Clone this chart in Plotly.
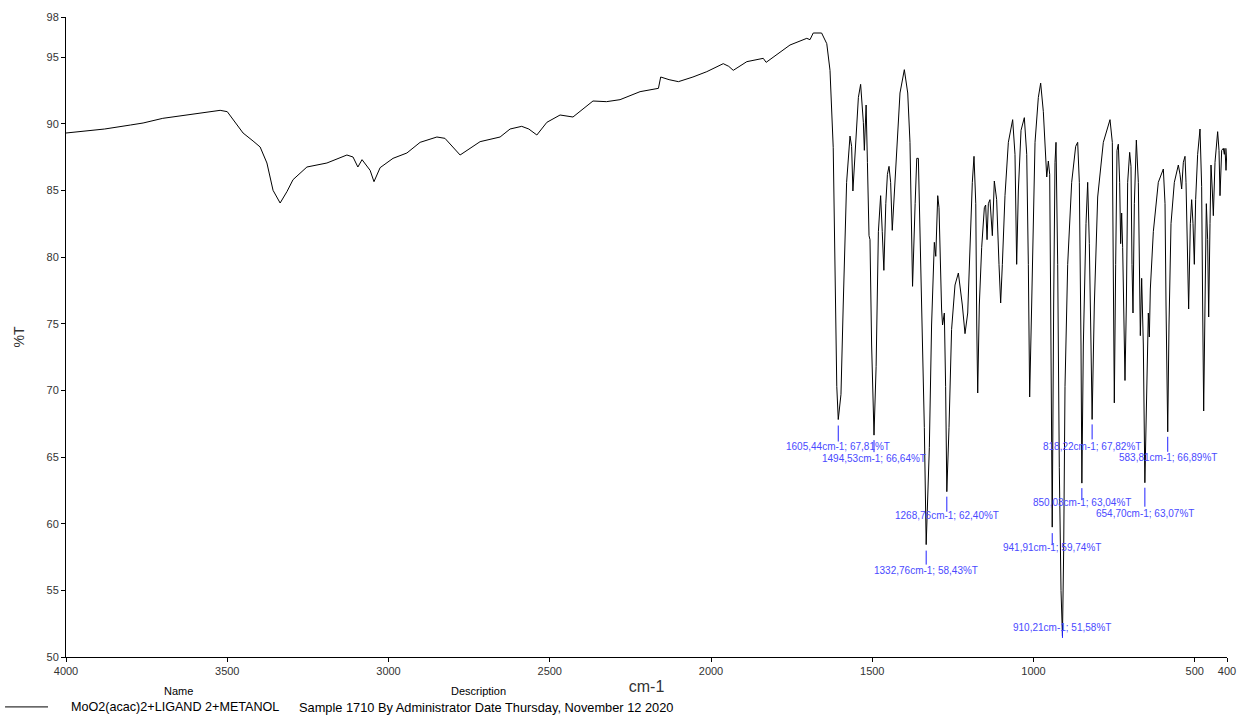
import plotly.graph_objects as go

# ---- data ----
wavenumber = [
    4000, 3880, 3800, 3761, 3700, 3640, 3580, 3522, 3500, 3482, 3451, 3420, 3398, 3377, 3358,
    3336, 3315, 3296, 3253, 3191, 3129, 3110, 3095, 3082, 3057, 3045, 3026, 2986, 2943, 2902,
    2850, 2825, 2800, 2778, 2716, 2654, 2623, 2587, 2565, 2540, 2509, 2468, 2428, 2366, 2324,
    2282, 2220, 2163, 2156, 2130, 2101, 2056, 2013, 1962, 1945, 1931, 1889, 1838, 1829, 1786,
    1755, 1703, 1693, 1683, 1657, 1641, 1631, 1621, 1615, 1610, 1605.44, 1597, 1590, 1579.5,
    1569, 1564, 1560, 1553.5, 1543, 1536, 1527.6, 1524.5, 1519, 1515, 1510, 1507, 1502,
    1494.53, 1488, 1481, 1474, 1469, 1464, 1458, 1453, 1448, 1443, 1438, 1432.5, 1424, 1414,
    1400.5, 1390, 1383, 1378, 1375, 1367, 1362, 1357, 1352, 1347, 1338.5, 1332.76, 1323, 1316,
    1310.6, 1307.5, 1303, 1297, 1293, 1290, 1285, 1282, 1276.5, 1272.5, 1268.76, 1262, 1254,
    1243.4, 1233, 1220.7, 1212.4, 1204, 1197, 1189.7, 1184.5, 1179, 1176, 1173, 1168, 1160.7,
    1152.4, 1148.3, 1144, 1140, 1135, 1132, 1127.6, 1121.5, 1114.2, 1107, 1101.8, 1096.6,
    1088.4, 1078, 1064.6, 1057.4, 1052.2, 1047, 1038.7, 1028.4, 1021, 1016, 1011.9, 1005.7,
    995.3, 985, 977.8, 969.5, 964.4, 959, 954, 949.8, 946.7, 941.91, 937.5, 933.3, 930.2, 925,
    920, 914.7, 910.21, 906.4, 902.3, 894, 881.6, 869.2, 863, 857.9, 852.7, 850.03, 845.5,
    837.2, 832, 826.9, 821.7, 818.22, 811.4, 801, 783.5, 762.8, 755.6, 752.5, 749.4, 745.2,
    741.1, 737, 732.8, 729.7, 726.6, 723.5, 719.4, 716.3, 712.1, 708, 701.8, 697.7, 694.6,
    691.5, 687.3, 681.1, 674.9, 671.8, 668.7, 664.6, 659.4, 654.70, 649.1, 643.9, 640.8, 637.7,
    628.4, 613, 597.4, 592.2, 589.1, 583.81, 579.8, 573.6, 563.3, 550.9, 545.7, 540.6, 535.4,
    530.2, 527.1, 524, 518.9, 513.7, 509.6, 505.4, 501.3, 497.2, 491, 483.7, 478.6, 475.5,
    472.3, 468.2, 464.1, 460, 456.8, 452.7, 449.6, 445.5, 442.4, 437.2, 429, 424.8, 421.7,
    416.5, 411.4, 408.3, 406.2, 403.1, 400,
]
transmittance = [
    89.3, 89.6, 89.9, 90.05, 90.4, 90.6, 90.85, 91.0, 90.9, 90.3, 89.3, 88.7, 88.25, 87.05, 85.0,
    84.05, 84.9, 85.8, 86.75, 87.05, 87.65, 87.5, 86.75, 87.3, 86.5, 85.65, 86.7, 87.4, 87.8, 88.6,
    89.0, 88.9, 88.2, 87.65, 88.65, 89.0, 89.6, 89.8, 89.6, 89.15, 90.1, 90.65, 90.5, 91.7, 91.65,
    91.8, 92.4, 92.65, 93.5, 93.3, 93.15, 93.5, 93.9, 94.5, 94.3, 94.0, 94.65, 94.9, 94.6, 95.35,
    95.9, 96.4, 96.3, 96.8, 96.8, 96.0, 94.0, 88.2, 79.4, 70.3, 67.81, 69.7, 76.4, 85.6,
    89.07, 88.3, 84.95, 87.4, 91.97, 92.95, 90.1, 88.0, 91.4, 87.1, 81.6, 81.3, 73.4,
    66.64, 71.8, 81.9, 84.6, 81.9, 79.0, 84.0, 86.2, 86.8, 85.6, 82.0, 84.6, 88.6, 92.3,
    94.05, 92.3, 88.6, 81.0, 77.8, 84.0, 87.4, 87.4, 82.5, 76.4, 67.2, 58.43, 65.7, 74.9,
    79.45, 81.1, 80.05, 84.6, 83.7, 80.4, 76.1, 74.9, 75.8, 70.3, 62.40, 67.2, 74.56,
    77.9, 78.8, 76.4, 74.25, 75.8, 81.0, 85.6, 87.55, 84.0, 74.9, 69.8, 76.4, 80.7,
    83.7, 83.9, 81.3, 84.0, 84.3, 83.4, 81.6, 85.7, 84.3, 79.45, 76.55, 79.45,
    84.6, 88.6, 90.3, 87.7, 79.45, 84.95, 89.5, 90.45, 87.7, 79.45, 69.5, 76.4,
    88.6, 91.97, 93.04, 90.9, 88.0, 86.0, 87.2, 86.2, 76.4, 59.74, 76.4, 87.1, 88.6, 79.45,
    64.2, 55.0, 51.58, 58.1, 70.3, 79.45, 85.6, 88.3, 88.6, 85.6, 73.4, 63.04, 73.4,
    82.5, 85.6, 81.0, 73.4, 67.82, 76.4, 84.5, 88.6, 90.3, 88.6, 76.4, 69.06, 79.45,
    88.0, 88.46, 85.6, 81.0, 83.3, 80.7, 73.4, 70.74, 76.4, 85.6, 87.85, 86.8, 79.45,
    75.8, 84.0, 88.77, 85.6, 76.4, 74.1, 78.4, 73.4, 63.07, 70.3, 75.8, 74.0, 77.6,
    81.9, 85.6, 86.6, 84.0, 76.4, 66.89, 74.9, 82.5, 85.6, 86.9, 86.2, 85.1, 87.1,
    87.55, 85.6, 81.0, 76.1, 82.5, 84.3, 82.5, 79.45, 84.3, 87.7, 89.6, 85.3, 76.4,
    68.45, 76.4, 84.0, 81.3, 75.5, 82.5, 86.9, 84.95, 83.1, 87.1, 89.4, 88.0, 84.6,
    88.0, 88.15, 87.7, 88.15, 86.5, 88.15,
]

peak_wn = [1605.44, 1494.53, 1332.76, 1268.76, 941.91, 910.21, 850.03, 818.22, 654.70, 583.81]
peak_t = [67.81, 66.64, 58.43, 62.40, 59.74, 51.58, 63.04, 67.82, 63.07, 66.89]

x_ticks = [4000, 3500, 3000, 2500, 2000, 1500, 1000, 500, 400]
y_ticks = [50, 55, 60, 65, 70, 75, 80, 85, 90, 95, 98]

sample_name = "MoO2(acac)2+LIGAND 2+METANOL"
sample_desc = "Sample 1710 By Administrator Date Thursday, November 12 2020"

# ---- label layout (pixel offsets below each peak: tick start, tick end, text centre) ----
# negative text offset = text placed above the peak
label_layout = [
    (6, 22, 27), (5, 17, 23), (6, 20, 26), (5, 20, 24), (6, 18, 20),
    (-6, 2, -8), (5, 17, 19), (5, 20, 27), (5, 24, 31), (5, 20, 26),
]

def fmt(v):
    return f"{v:.2f}".replace(".", ",")

FONT = "Liberation Sans, Arial, sans-serif"

fig = go.Figure()
fig.add_trace(go.Scatter(
    x=wavenumber, y=transmittance, mode="lines",
    line=dict(color="black", width=1), hoverinfo="x+y", showlegend=False,
))

shapes = []
annotations = []
for w, t, (a, b, c) in zip(peak_wn, peak_t, label_layout):
    shapes.append(dict(
        type="line", xref="x", yref="y", ysizemode="pixel", yanchor=t,
        x0=w, x1=w, y0=-a, y1=-b, line=dict(color="#2020ff", width=1),
    ))
    annotations.append(dict(
        x=w, y=t, xref="x", yref="y", yshift=-c,
        text=f"{fmt(w)}cm-1; {fmt(t)}%T", showarrow=False,
        xanchor="center", yanchor="middle",
        font=dict(family=FONT, size=10, color="#4a4aff"),
    ))

# legend-like table under the chart
annotations += [
    dict(x=0.0965, y=0, xref="paper", yref="paper", yshift=-34, text="Name",
         showarrow=False, xanchor="center", yanchor="middle",
         font=dict(family=FONT, size=11, color="black")),
    dict(x=0.3557, y=0, xref="paper", yref="paper", yshift=-34, text="Description",
         showarrow=False, xanchor="center", yanchor="middle",
         font=dict(family=FONT, size=11, color="black")),
    dict(x=0.0026, y=0, xref="paper", yref="paper", yshift=-50, text=sample_name,
         showarrow=False, xanchor="left", yanchor="middle",
         font=dict(family=FONT, size=12.6, color="black")),
    dict(x=0.199, y=0, xref="paper", yref="paper", yshift=-50, text=sample_desc,
         showarrow=False, xanchor="left", yanchor="middle",
         font=dict(family=FONT, size=12.8, color="black")),
]
shapes.append(dict(type="line", xref="paper", yref="paper", x0=-0.0525, x1=-0.0155,
                   y0=-0.078, y1=-0.078, line=dict(color="black", width=1)))

fig.update_layout(
    width=1239, height=715,
    margin=dict(l=66, r=12, t=17, b=58, autoexpand=False),
    paper_bgcolor="white", plot_bgcolor="white",
    shapes=shapes, annotations=annotations,
    font=dict(family=FONT, size=11, color="#333333"),
    xaxis=dict(
        range=[4000, 400], tickvals=x_ticks, ticktext=[str(v) for v in x_ticks],
        showgrid=False, zeroline=False, showline=True, linecolor="black", linewidth=1,
        ticks="outside", ticklen=4, tickcolor="black", ticklabeloverflow="allow",
        tickfont=dict(family=FONT, size=11, color="#333333"),
        title=dict(text="cm-1", font=dict(family=FONT, size=16, color="#333333"), standoff=4),
    ),
    yaxis=dict(
        range=[50, 98], tickvals=y_ticks, ticktext=[str(v) for v in y_ticks],
        showgrid=False, zeroline=False, showline=True, linecolor="black", linewidth=1,
        ticks="outside", ticklen=4, tickcolor="black",
        tickfont=dict(family=FONT, size=11, color="#333333"),
        title=dict(text="%T", font=dict(family=FONT, size=14, color="#333333"), standoff=18),
    ),
)

# remove the browser's default page margin so the figure sits at the window's top-left corner
fig.write_html(
    "out.html",
    config={"displayModeBar": False},
    post_script="document.body.style.margin='0';document.body.style.overflow='hidden';",
)
